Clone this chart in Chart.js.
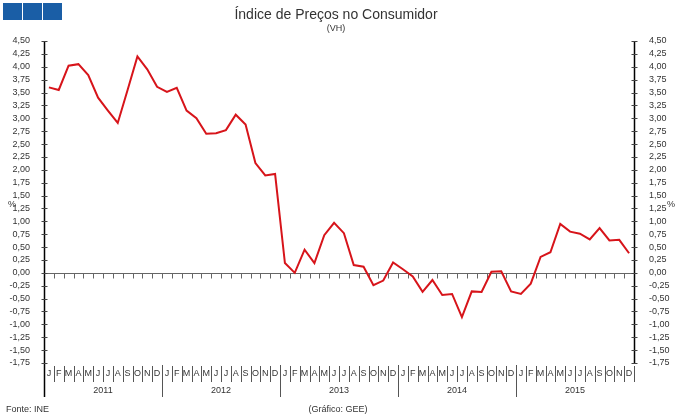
<!DOCTYPE html>
<html>
<head>
<meta charset="utf-8">
<script src="https://cdn.jsdelivr.net/npm/chart.js@4"></script>
<style>
  html, body { margin: 0; padding: 0; background: #fff; }
  #wrap { width: 680px; height: 419px; }
</style>
</head>
<body>
<div id="wrap"><canvas id="cpiChart"></canvas></div>
<script>
// Índice de Preços no Consumidor (VH), 2011-2015

const years = ['2011', '2012', '2013', '2014', '2015'];
const monthLetters = ['J', 'F', 'M', 'A', 'M', 'J', 'J', 'A', 'S', 'O', 'N', 'D'];

const cpi2011 = [3.60, 3.55, 4.02, 4.05, 3.84, 3.40, 3.15, 2.91, 3.55, 4.20, 3.95, 3.61];
const cpi2012 = [3.51, 3.59, 3.15, 3.00, 2.70, 2.71, 2.77, 3.07, 2.88, 2.13, 1.89, 1.92];
const cpi2013 = [0.19, 0.00, 0.45, 0.19, 0.73, 0.97, 0.77, 0.15, 0.12, -0.24, -0.15, 0.20];
const cpi2014 = [0.07, -0.07, -0.37, -0.14, -0.43, -0.41, -0.86, -0.36, -0.37, 0.02, 0.03, -0.36];
const cpi2015 = [-0.41, -0.21, 0.31, 0.40, 0.95, 0.80, 0.76, 0.65, 0.87, 0.63, 0.64, 0.38];

const yMin = -1.75;
const yMax = 4.5;
const yStep = 0.25;

const labels = [];
years.forEach(y => monthLetters.forEach(m => labels.push(m)));
const values = [].concat(cpi2011, cpi2012, cpi2013, cpi2014, cpi2015);

const FONT = '"Liberation Sans", Arial, sans-serif';
const TEXT = '#333';

function fmt(v) {
    return v.toFixed(2).replace('.', ',');
}

// extra drawing: zero line, axes, month/year band, titles
const decor = {
    id: 'decor',
    beforeDraw(chart) {
        const ctx = chart.ctx;
        ctx.save();
        ctx.fillStyle = '#fff';
        ctx.fillRect(0, 0, chart.width, chart.height);
        ctx.restore();
    },
    beforeDatasetsDraw(chart) {
        const ctx = chart.ctx;
        const ys = chart.scales.y;
        const area = chart.chartArea;
        const y0 = Math.round(ys.getPixelForValue(0)) + 0.5;
        const cell = (area.right - area.left) / labels.length;

        ctx.save();
        ctx.strokeStyle = '#666';
        ctx.lineWidth = 1;
        ctx.beginPath();
        ctx.moveTo(area.left, y0);
        ctx.lineTo(area.right, y0);
        for (let i = 1; i < labels.length; i++) {
            const bx = Math.round(area.left + i * cell) + 0.5;
            ctx.moveTo(bx, y0);
            ctx.lineTo(bx, y0 + 5);
        }
        ctx.stroke();
        ctx.restore();
    },
    afterDraw(chart) {
        const ctx = chart.ctx;
        const xs = chart.scales.x;
        const ys = chart.scales.y;
        const area = chart.chartArea;
        const cell = (area.right - area.left) / labels.length;

        ctx.save();

        // logo squares
        ctx.fillStyle = '#1a5ea6';
        for (let i = 0; i < 3; i++) {
            ctx.fillRect(3 + i * 20, 3, 19, 17);
        }

        // titles
        ctx.fillStyle = TEXT;
        ctx.textAlign = 'center';
        ctx.textBaseline = 'middle';
        ctx.font = '14px ' + FONT;
        ctx.fillText('Índice de Preços no Consumidor', 336, 15);
        ctx.font = '9px ' + FONT;
        ctx.fillText('(VH)', 336, 29);

        // axis lines
        const lx = Math.round(area.left) + 0.5;
        const rx = Math.round(area.right) + 0.5;
        ctx.strokeStyle = '#000';
        ctx.lineWidth = 1.5;
        ctx.beginPath();
        ctx.moveTo(lx, area.top);
        ctx.lineTo(lx, 397);
        ctx.moveTo(rx, area.top);
        ctx.lineTo(rx, area.bottom + 1);
        ctx.stroke();

        // y ticks
        ctx.strokeStyle = '#444';
        ctx.lineWidth = 1;
        ctx.beginPath();
        for (let v = yMin; v <= yMax + 1e-9; v += yStep) {
            const py = Math.round(ys.getPixelForValue(v)) + 0.5;
            ctx.moveTo(lx - 3, py);
            ctx.lineTo(lx + 3, py);
            ctx.moveTo(rx - 3, py);
            ctx.lineTo(rx + 3, py);
        }
        ctx.stroke();

        // month separators and letters
        ctx.strokeStyle = '#555';
        ctx.beginPath();
        for (let i = 1; i <= labels.length; i++) {
            const bx = Math.round(area.left + i * cell) + 0.5;
            if (i % 12 === 0 && i < labels.length) {
                ctx.moveTo(bx, area.bottom + 2);
                ctx.lineTo(bx, 397);
            } else {
                ctx.moveTo(bx, area.bottom + 3);
                ctx.lineTo(bx, area.bottom + 19);
            }
        }
        ctx.stroke();

        ctx.fillStyle = TEXT;
        ctx.font = '9px ' + FONT;
        ctx.textAlign = 'center';
        labels.forEach((m, i) => {
            ctx.fillText(m, xs.getPixelForValue(i), area.bottom + 11);
        });
        years.forEach((y, k) => {
            const cx = area.left + (k * 12 + 6) * cell;
            ctx.fillText(y, cx, area.bottom + 28);
        });

        // unit labels
        ctx.fillText('%', 12, 205);
        ctx.fillText('%', 671, 205);

        // footer
        ctx.textAlign = 'left';
        ctx.fillText('Fonte: INE', 6, 410);
        ctx.textAlign = 'center';
        ctx.fillText('(Gráfico: GEE)', 338, 410);

        ctx.restore();
    }
};

const ctx = document.getElementById('cpiChart').getContext('2d');

new Chart(ctx, {
    type: 'line',
    data: {
        labels: labels,
        datasets: [{
            label: 'IPC (VH)',
            data: values,
            borderColor: '#d7141a',
            borderWidth: 2,
            pointRadius: 0,
            tension: 0,
            fill: false,
            yAxisID: 'y'
        }]
    },
    options: {
        responsive: true,
        maintainAspectRatio: false,
        animation: false,
        layout: {
            padding: { top: 41, left: 0, right: 0, bottom: 0 }
        },
        plugins: {
            legend: { display: false },
            title: { display: false },
            tooltip: { enabled: false }
        },
        scales: {
            x: {
                type: 'category',
                offset: true,
                grid: { display: false },
                border: { display: false },
                ticks: { display: false },
                afterFit: (scale) => { scale.height = 56; }
            },
            y: {
                position: 'left',
                min: yMin,
                max: yMax,
                grid: { display: false },
                border: { display: false },
                ticks: {
                    stepSize: yStep,
                    autoSkip: false,
                    padding: 6,
                    color: TEXT,
                    font: { family: FONT, size: 9 },
                    callback: (v) => fmt(v)
                },
                afterFit: (scale) => { scale.width = 44; }
            },
            y2: {
                position: 'right',
                min: yMin,
                max: yMax,
                grid: { display: false },
                border: { display: false },
                ticks: {
                    stepSize: yStep,
                    autoSkip: false,
                    padding: 7,
                    color: TEXT,
                    font: { family: FONT, size: 9 },
                    callback: (v) => fmt(v)
                },
                afterFit: (scale) => { scale.width = 46; }
            }
        }
    },
    plugins: [decor]
});
</script>
</body>
</html>
